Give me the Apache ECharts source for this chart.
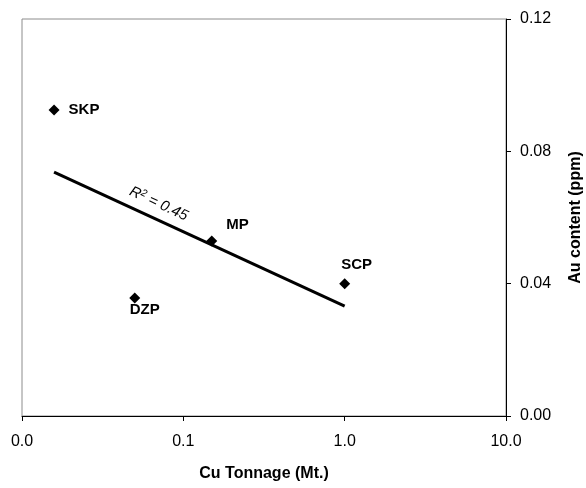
<!DOCTYPE html>
<html><head><meta charset="utf-8">
<script src="https://cdn.jsdelivr.net/npm/echarts@6/dist/echarts.min.js"></script>
<style>html,body{margin:0;padding:0;background:#fff}#c{width:586px;height:488px}</style>
</head><body><div id="c"></div>
<script>
const names = ['SKP', 'DZP', 'MP', 'SCP'];
const cuTonnage = [0.0158, 0.05, 0.15, 1.0];
const auContent = [0.0925, 0.0357, 0.0529, 0.040];
const xTicks = [0.01, 0.1, 1, 10];
const yTicks = [0, 0.04, 0.08, 0.12];
const r2Value = '0.45';

// logarithmic trend line (least squares on log10 x)
const lx = cuTonnage.map(v => Math.log10(v));
const n = lx.length;
const mx = lx.reduce((a, b) => a + b, 0) / n;
const my = auContent.reduce((a, b) => a + b, 0) / n;
let sxy = 0, sxx = 0;
for (let i = 0; i < n; i++) { sxy += (lx[i] - mx) * (auContent[i] - my); sxx += (lx[i] - mx) ** 2; }
const slope = sxy / sxx, icpt = my - slope * mx;
const fit = x => icpt + slope * Math.log10(x);
const xLo = Math.min(...cuTonnage), xHi = Math.max(...cuTonnage);

const font = 'Liberation Sans, Arial, sans-serif';
const labelCfg = {
  SKP: { position: 'right', distance: 9 },
  DZP: { position: 'bottom', distance: 1, offset: [10, -2] },
  MP: { position: 'right', distance: 7, offset: [2, -16] },
  SCP: { position: 'top', distance: 6, offset: [12, 0] }
};

const chart = echarts.init(document.getElementById('c'));
chart.setOption({
  animation: false,
  grid: { left: 22, right: 80, top: 19, bottom: 72, containLabel: false, outerBoundsMode: 'none',
          show: true, borderColor: '#8c8c8c', borderWidth: 1 },
  xAxis: {
    type: 'log', logBase: 10, min: xTicks[0], max: xTicks[xTicks.length - 1],
    position: 'bottom',
    axisLine: { lineStyle: { color: '#000', width: 1 } },
    axisTick: { show: true, length: 5, lineStyle: { color: '#000' } },
    minorTick: { show: false }, splitLine: { show: false },
    axisLabel: { color: '#000', fontFamily: font, fontSize: 16, margin: 18, formatter: v => Number(v).toFixed(1) },
    name: 'Cu Tonnage (Mt.)', nameLocation: 'middle', nameGap: 50,
    nameTextStyle: { color: '#000', fontFamily: font, fontSize: 16, fontWeight: 'bold' }
  },
  yAxis: {
    type: 'value', min: yTicks[0], max: yTicks[yTicks.length - 1], interval: 0.04,
    position: 'right',
    axisLine: { show: true, lineStyle: { color: '#000', width: 1 } },
    axisTick: { show: true, length: 5, lineStyle: { color: '#000' } },
    splitLine: { show: false },
    axisLabel: { color: '#000', fontFamily: font, fontSize: 16, margin: 14, formatter: v => v.toFixed(2) },
    name: 'Au content (ppm)', nameLocation: 'middle', nameGap: 62, nameRotate: 90,
    nameTextStyle: { color: '#000', fontFamily: font, fontSize: 16, fontWeight: 'bold' }
  },
  series: [
    {
      type: 'line', data: [[xLo, fit(xLo)], [xHi, fit(xHi)]],
      symbol: 'none', lineStyle: { color: '#000', width: 3 }, z: 2
    },
    {
      type: 'scatter', symbol: 'diamond', symbolSize: 11,
      itemStyle: { color: '#000', opacity: 1 }, z: 3,
      data: names.map((nm, i) => ({
        value: [cuTonnage[i], auContent[i]], name: nm,
        label: Object.assign({ show: true, formatter: nm, color: '#000', fontFamily: font, fontSize: 15, fontWeight: 'bold' }, labelCfg[nm])
      }))
    }
  ]
});

// R² annotation aligned to the trend line
const xr = 0.0643;
const p1 = chart.convertToPixel({ gridIndex: 0 }, [xLo, fit(xLo)]);
const p2 = chart.convertToPixel({ gridIndex: 0 }, [xHi, fit(xHi)]);
const pm = chart.convertToPixel({ gridIndex: 0 }, [xr, fit(xr)]);
const ang = Math.atan2(p2[1] - p1[1], p2[0] - p1[0]);
const off = 15;
chart.setOption({
  graphic: [{
    type: 'text', x: pm[0] + off * Math.sin(ang), y: pm[1] - off * Math.cos(ang), rotation: -ang,
    style: {
      text: '{r|R}{s|2}{r| = ' + r2Value + '}',
      align: 'center', verticalAlign: 'middle',
      rich: {
        r: { fontFamily: font, fontSize: 15, fontStyle: 'italic', color: '#000' },
        s: { fontFamily: font, fontSize: 10, fontStyle: 'italic', color: '#000', verticalAlign: 'top', padding: [0, 0, 7, 0] }
      }
    }
  }]
});
</script></body></html>
